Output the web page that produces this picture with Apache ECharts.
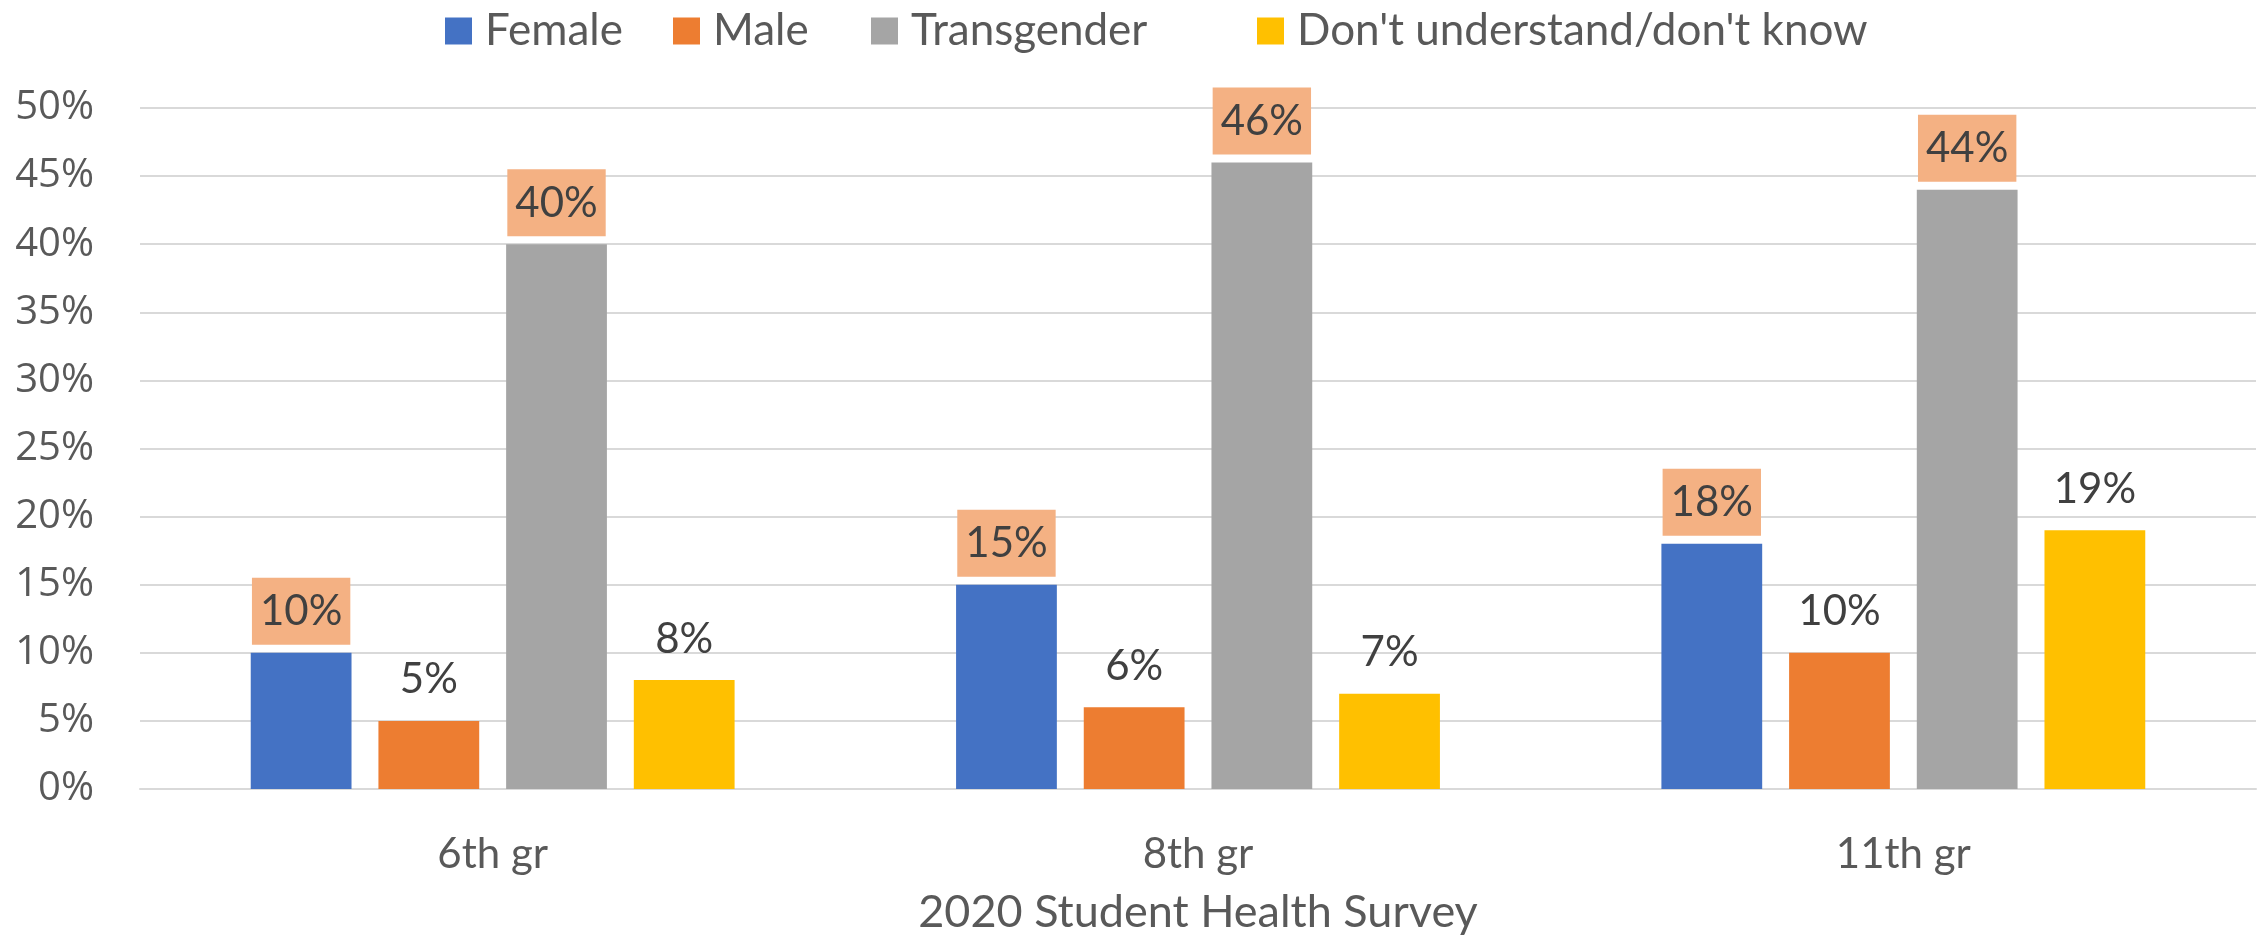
<!DOCTYPE html>
<html>
<head>
<meta charset="utf-8">
<script src="https://cdn.jsdelivr.net/npm/echarts@6/dist/echarts.min.js"></script>
<style>html,body{margin:0;padding:0;background:#fff}#c{width:2267px;height:942px}</style>
</head>
<body>
<div id="c"></div>
<script>
const categories = ['6th gr', '8th gr', '11th gr'];
const seriesNames = ['Female', 'Male', 'Transgender', "Don't understand/don't know"];
const female = [10, 15, 18];
const male = [5, 6, 10];
const transgender = [40, 46, 44];
const dontKnow = [8, 7, 19];
const yTicks = [0, 5, 10, 15, 20, 25, 30, 35, 40, 45, 50];
const xTitle = '2020 Student Health Survey';

const colors = ['#4472C4', '#ED7D31', '#A5A5A5', '#FFC000'];
const highlighted = [true, false, true, false];
const legendLefts = [440, 668, 866, 1252];
const values = [female, male, transgender, dontKnow];

const chart = echarts.init(document.getElementById('c'));
const FONT = 'Lato';

chart.setOption({
  animation: false,
  color: colors,
  legend: seriesNames.map((n, i) => ({
    top: 4,
    left: legendLefts[i],
    itemWidth: 27,
    itemHeight: 27,
    icon: 'rect',
    textStyle: { fontFamily: FONT, fontSize: 44, color: '#595959', padding: [0, 0, 0, 8] },
    data: [n]
  })),
  grid: { left: 140, right: 11, top: 108, bottom: 153 },
  xAxis: {
    type: 'category',
    data: categories,
    axisTick: { show: false },
    axisLine: { lineStyle: { color: '#D9D9D9', width: 2 } },
    axisLabel: { fontFamily: FONT, fontSize: 42, color: '#595959', margin: 44 },
    name: xTitle,
    nameLocation: 'middle',
    nameGap: 101,
    nameTextStyle: { fontFamily: FONT, fontSize: 45, color: '#595959' }
  },
  yAxis: {
    type: 'value',
    min: yTicks[0],
    max: yTicks[yTicks.length - 1],
    interval: yTicks[1] - yTicks[0],
    axisLine: { show: false },
    axisTick: { show: false },
    splitLine: { lineStyle: { color: '#D9D9D9', width: 2 } },
    axisLabel: { fontFamily: 'Open Sans', fontSize: 40, color: '#595959', margin: 46, formatter: '{value}%' }
  },
  series: seriesNames.map((name, i) => ({
    name: name,
    type: 'bar',
    data: values[i],
    barCategoryGap: '31.4%',
    barGap: '26.7%',
    label: {
      show: true,
      position: 'top',
      distance: 8,
      formatter: '{c}%',
      fontFamily: FONT,
      fontSize: 42,
      lineHeight: 46,
      color: '#404040',
      padding: [11, 8, 10, 8],
      backgroundColor: highlighted[i] ? '#F4B183' : 'transparent'
    }
  }))
});
</script>
</body>
</html>
